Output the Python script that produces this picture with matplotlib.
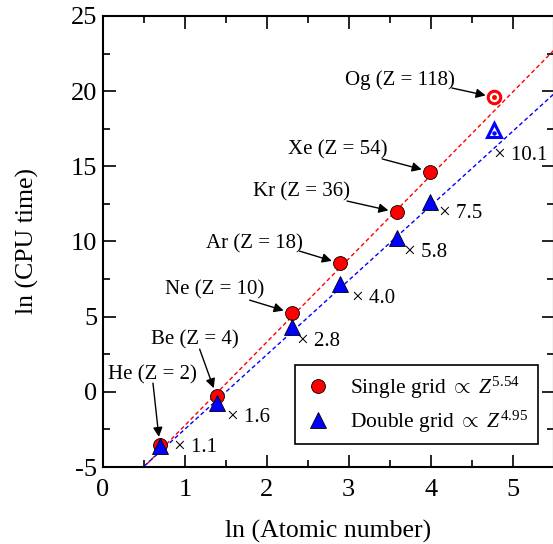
import matplotlib.pyplot as plt
import numpy as np

plt.rcParams['font.family'] = 'Liberation Serif'
plt.rcParams['mathtext.fontset'] = 'custom'
plt.rcParams['mathtext.rm'] = 'Liberation Serif'
plt.rcParams['mathtext.it'] = 'Liberation Serif:italic'
plt.rcParams['axes.unicode_minus'] = False

# atoms, atomic numbers and measured CPU times (log)
atoms = ['He', 'Be', 'Ne', 'Ar', 'Kr', 'Xe', 'Og']
Z = [2, 4, 10, 18, 36, 54, 118]
t_single = [-3.55, -0.28, 5.25, 8.55, 11.95, 14.65, 19.6]
t_double = [-3.6, -0.72, 4.28, 7.15, 10.2, 12.65, 17.45]
speedup = ['1.1', '1.6', '2.8', '4.0', '5.8', '7.5', '10.1']

# power-law fits: ln t = a ln Z + b
a_single, b_single = 5.54, -7.77
a_double, b_double = 4.95, -7.43

# where the atom names and the speed-up labels go
name_xy = [(0.6, 1.12), (1.12, 3.45), (1.36, 6.77), (1.85, 9.82),
           (2.42, 13.27), (2.86, 16.07), (3.62, 20.72)]
name_arrow_from = [(0.61, 0.58), (1.18, 2.84), (1.79, 6.1), (2.4, 9.36),
                   (2.98, 12.69), (3.41, 15.49), (4.26, 20.21)]
ratio_xy = [(0.87, -3.67), (1.51, -1.68), (2.37, 3.38), (3.04, 6.23),
            (3.68, 9.3), (4.1, 11.83), (4.77, 15.69)]

lnZ = np.log(Z)

fig = plt.figure(figsize=(5.53, 5.44), dpi=100)
ax = fig.add_axes([103/553, 1-467/544, 450.5/553, 451/544])

xx = np.linspace(0, 5.6, 50)
ax.plot(xx, a_single*xx + b_single, '--', color='red', lw=1, dashes=(3, 2))
ax.plot(xx, a_double*xx + b_double, '--', color='blue', lw=1, dashes=(3, 2))

n = len(Z) - 1
ax.plot(lnZ[:n], t_single[:n], 'o', color='red', mec='black', mew=0.6, ms=10,
        label=r'Single grid $\propto$ $\mathit{Z}^{5.54}$', zorder=3)
ax.plot(lnZ[:n], t_double[:n], '^', color='blue', mec='black', mew=0.6, ms=11,
        label=r'Double grid $\propto$ $\mathit{Z}^{4.95}$', zorder=4)

# the last atom is an extrapolation: open markers with a centre dot
ax.plot(lnZ[n], t_single[n], 'o', mfc='white', mec='red', mew=2.2, ms=9, zorder=3)
ax.plot(lnZ[n], t_single[n], 'o', color='red', ms=2.5, zorder=4)
ax.plot(lnZ[n], t_double[n], '^', mfc='white', mec='blue', mew=2.2, ms=10, zorder=3)
ax.plot(lnZ[n], t_double[n] - 0.2, 'o', color='blue', ms=2.2, zorder=4)

for i in range(len(Z)):
    ax.text(*name_xy[i], '%s (Z = %d)' % (atoms[i], Z[i]),
            fontsize=15, ha='center', va='center')
    ax.annotate('', xy=(lnZ[i], t_single[i]), xytext=name_arrow_from[i],
                arrowprops=dict(arrowstyle='-|>', color='black', lw=1,
                                mutation_scale=14, shrinkA=0, shrinkB=6))
    ax.text(*ratio_xy[i], '× ' + speedup[i], fontsize=15, ha='left', va='center')

ax.set_xlim(0, 5.48)
ax.set_ylim(-5, 25)
ax.set_xticks(range(6))
ax.set_xticks([0.5, 1.5, 2.5, 3.5, 4.5, 5.5], minor=True)
ax.set_yticks(range(-5, 26, 5))
ax.set_yticks(np.arange(-2.5, 25, 5), minor=True)
ax.tick_params(which='both', direction='in', top=True, right=True, labelsize=19, width=1.2)
ax.tick_params(which='major', length=9)
ax.tick_params(which='minor', length=5)
ax.tick_params(axis='x', pad=9)
ax.tick_params(axis='y', pad=4)
for s in ax.spines.values():
    s.set_linewidth(1.5)

ax.set_xlabel('ln (Atomic number)', fontsize=18.5, labelpad=13)
ax.set_ylabel('ln (CPU time)', fontsize=18.5, labelpad=23)

leg = ax.legend(loc='lower right', bbox_to_anchor=(0.965, 0.05), fontsize=15.5,
                fancybox=False, edgecolor='black', framealpha=1, handletextpad=0.9,
                borderpad=0.45, labelspacing=0.35, handlelength=1.2, borderaxespad=0)
leg.get_frame().set_linewidth(1.2)

fig.savefig('out.png', dpi=100)
